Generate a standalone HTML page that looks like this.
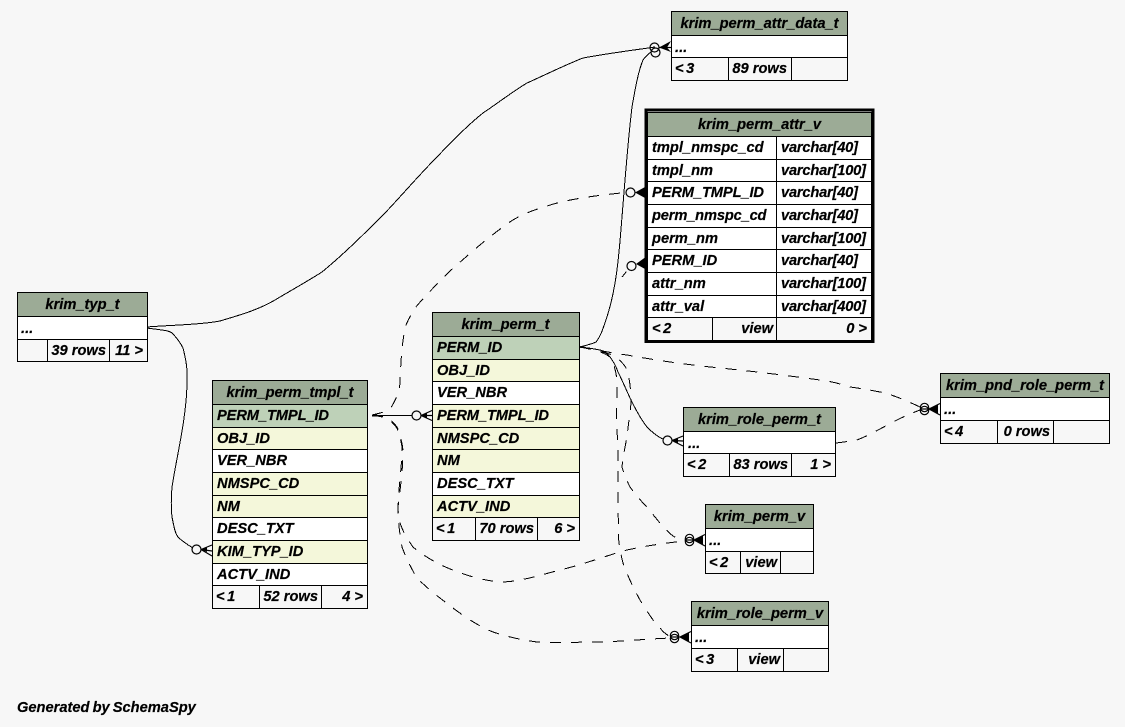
<!DOCTYPE html>
<html><head><meta charset="utf-8"><style>
html,body{margin:0;padding:0;background:#f7f7f7}
svg{display:block}
text{font-family:"Liberation Sans",sans-serif;font-weight:bold;font-style:italic;font-size:14.67px;fill:#000;stroke:#000;stroke-width:.2}
.c{text-anchor:middle}.e{text-anchor:end}.l{word-spacing:-1.5px}
.t rect{stroke:#000;stroke-width:1}
.h{fill:#9cab96}.p{fill:#bed1b8}.f{fill:#f4f7da}.w{fill:#fff}.n{fill:#f7f7f7}
.s{fill:none;stroke:#000;stroke-width:1;shape-rendering:crispEdges}
.d{fill:none;stroke:#000;stroke-width:1;stroke-dasharray:11 10;shape-rendering:crispEdges}
.o{fill:none;stroke:#000;stroke-width:1.2}
.k{fill:none;stroke:#000;stroke-width:1.2}
</style></head><body>
<svg width="1125" height="727" viewBox="0 0 1125 727" xmlns="http://www.w3.org/2000/svg">
<rect width="1125" height="727" fill="#f7f7f7"/>

<!-- connectors -->
<path class="s" d="M147,327 C170,325 200,325 220,321 C240,315 258,310 275,300 C290,291 308,281 322,272 C345,253 365,233 385,213 C403,194 420,174 437,157 C452,141 468,125 483,113 C498,103 512,92 527,83 C545,75 565,65 583,58 C610,53 635,50 655,47"/>
<path class="s" d="M147,328 C160,330 168,330 172,333 C176,337 180,342 183,348 C186,360 188,370 187,385 C186,420 177,455 172,487 C171,498 171,508 172,517 C174,527 175,533 178,537 C183,542 188,545 193,548"/>
<path class="s" d="M372,415.5 L412,415.5"/>
<path class="d" d="M372,415 C380,413 388,412 392,406 C398,395 400,390 400,380 C401,360 402,340 406,325 C409,318 412,313 415,308 C426,295 438,283 450,271 C468,255 485,240 503,227 C515,217 530,211 547,206 C565,200 590,196 626,192.5"/>
<path class="s" d="M580,347 C587,345 592,344 596,342 C601,336 603,328 606,320 C611,305 613,295 615,283 C619,260 620,240 622,217 C625,180 628,140 632,107 C635,90 638,72 643,60 C645,57 647,55 651,52"/>
<path class="d" stroke-dashoffset="4" d="M622,277 L631,266"/>
<path class="d" d="M580,347 C600,350 610,353 627,355 C660,361 690,365 720,368 C760,372 790,376 820,380 C835,382 840,384 850,387 C865,389 875,391 885,393 C895,396 905,400 920,407"/>
<path class="s" d="M580,347 C590,348 595,349 600,350 C604,351 607,353 610,357 C613,361 616,366 618,372 C622,380 626,389 630,398 C635,408 640,418 647,427 C652,432 658,437 663,439"/>
<path class="d" d="M836,443 C845,442 850,441 857,440 C870,435 885,426 897,420 C905,416 912,413 920,410"/>
<path class="d" d="M580,347 C590,349 603,352 613,355 C620,360 625,365 627,370 C630,380 631,392 631,403 C630,415 628,426 627,437 C625,447 623,457 622,467 C624,474 627,481 630,487 C635,494 640,500 647,507 C655,517 665,530 673,536 C678,539 682,540 686,540"/>
<path class="d" d="M580,347 C590,349 602,351 610,357 C614,363 616,372 617,380 L616.5,420 C617,432 618,445 618,457 L618,497 L618.5,537 C619,546 621,555 623,563 C628,577 634,589 640,600 C646,610 653,621 660,628 C664,633 668,636 672,637"/>
<path class="d" d="M372,415 C378,416 382,416 387,417 C391,420 394,423 397,427 C400,434 402,442 403,450 C403,470 400,490 398,507 C398,512 399,518 400,523 C403,532 408,540 413,547 C420,553 428,558 437,563 C455,572 478,580 500,582 C520,582 540,575 560,570 C585,564 605,556 627,550 C645,546 665,543 685,541"/>
<path class="d" d="M372,415 C378,416 382,417 387,418 C391,421 394,424 397,428 C399,434 401,440 402,447 C402,468 398,490 398,510 C398,522 400,535 402,547 C406,558 411,568 417,578 C424,585 432,592 440,598 C455,610 475,625 493,632 C508,637 522,640 537,642 C560,643 580,642 603,642 C625,641 648,639 670,638"/>

<!-- crow's feet -->
<g>
<circle class="o" cx="654.5" cy="47.5" r="4.5"/><circle class="o" cx="655.5" cy="52.5" r="4.5"/>
<path d="M659,47.5 L671,41 L667,47.5 L671,52 Z"/><path class="k" d="M659,47.5 L671,47.5"/>

<circle class="o" cx="630.5" cy="192.5" r="4.5"/>
<path d="M635,192.5 L645,187 L645,198 Z"/>

<circle class="o" cx="631.5" cy="266" r="4.5"/>
<path d="M636,264 L645,257.5 L645,269 Z"/>

<circle class="o" cx="416.5" cy="415.5" r="4.5"/>
<path class="k" d="M421,415.5 L432,410.5 M421,415.5 L432,415.5 M421,415.5 L432,420.5"/><path d="M421,415.5 L427,413 L427,418 Z"/>

<circle class="o" cx="196.5" cy="549.5" r="4.5"/>
<path class="k" d="M201,549.5 L212,545 M201,549.5 L212,551 M201,549.5 L212,556"/><path d="M201,549.5 L207,547 L207,552 Z"/>

<circle class="o" cx="667.5" cy="440.5" r="4.5"/>
<path class="k" d="M672,440.5 L683,436 M672,440.5 L683,441 M672,440.5 L683,446"/><path d="M672,440.5 L678,438 L678,443 Z"/>

<circle class="o" cx="924.5" cy="407.5" r="4.2"/><circle class="o" cx="924.5" cy="410.5" r="4.2"/><path class="k" d="M920,409 L930,409"/>
<path class="k" d="M929,409 L940,403.5 M929,409 L940,415"/><path d="M929,409 L938,404.5 L938,413.5 Z"/>

<circle class="o" cx="689.5" cy="538.5" r="4.2"/><circle class="o" cx="689.5" cy="541.5" r="4.2"/><path class="k" d="M685,540 L694,540"/>
<path class="k" d="M694,540 L705,534.5 M694,540 L705,546"/><path d="M694,540 L703,535.5 L703,544.5 Z"/>

<circle class="o" cx="674.5" cy="635.5" r="4.2"/><circle class="o" cx="674.5" cy="638.5" r="4.2"/><path class="k" d="M670,637 L680,637"/>
<path class="k" d="M680,637 L691,631.5 M680,637 L691,643"/><path d="M680,637 L689,632.5 L689,641.5 Z"/>

<path d="M372,414.5 h5 v2 h-5 Z"/>
<path d="M580,346 l6,1 l-6,1 Z"/>
</g>

<!-- krim_perm_attr_data_t -->
<g class="t">
<rect class="h" x="671.5" y="11.5" width="176" height="24"/>
<rect class="w" x="671.5" y="35.5" width="176" height="22"/>
<rect class="n" x="671.5" y="57.5" width="57" height="23"/>
<rect class="n" x="728.5" y="57.5" width="63" height="23"/>
<rect class="n" x="791.5" y="57.5" width="56" height="23"/>
</g>
<text class="c" x="759.5" y="28">krim_perm_attr_data_t</text>
<text x="675" y="52">...</text>
<text class="l" x="675" y="73">&lt; 3</text>
<text class="e" x="787" y="73">89 rows</text>

<!-- krim_perm_attr_v -->
<rect x="646" y="110" width="227" height="231.5" fill="#f7f7f7" stroke="#000" stroke-width="3"/>
<g class="t">
<rect class="h" x="647.5" y="112.5" width="224" height="24"/>
<rect class="w" x="647.5" y="136.5" width="129" height="23"/><rect class="w" x="776.5" y="136.5" width="95" height="23"/>
<rect class="w" x="647.5" y="159.5" width="129" height="22"/><rect class="w" x="776.5" y="159.5" width="95" height="22"/>
<rect class="w" x="647.5" y="181.5" width="129" height="23"/><rect class="w" x="776.5" y="181.5" width="95" height="23"/>
<rect class="w" x="647.5" y="204.5" width="129" height="23"/><rect class="w" x="776.5" y="204.5" width="95" height="23"/>
<rect class="w" x="647.5" y="227.5" width="129" height="22"/><rect class="w" x="776.5" y="227.5" width="95" height="22"/>
<rect class="w" x="647.5" y="249.5" width="129" height="23"/><rect class="w" x="776.5" y="249.5" width="95" height="23"/>
<rect class="w" x="647.5" y="272.5" width="129" height="23"/><rect class="w" x="776.5" y="272.5" width="95" height="23"/>
<rect class="w" x="647.5" y="295.5" width="129" height="22"/><rect class="w" x="776.5" y="295.5" width="95" height="22"/>
<rect class="n" x="647.5" y="317.5" width="65" height="23"/><rect class="n" x="712.5" y="317.5" width="64" height="23"/><rect class="n" x="776.5" y="317.5" width="95" height="23"/>
</g>
<text class="c" x="759.5" y="129">krim_perm_attr_v</text>
<text x="652" y="152">tmpl_nmspc_cd</text><text x="781" y="152" textLength="77">varchar[40]</text>
<text x="652" y="175">tmpl_nm</text><text x="781" y="175" textLength="85">varchar[100]</text>
<text x="652" y="197" textLength="112">PERM_TMPL_ID</text><text x="781" y="197" textLength="77">varchar[40]</text>
<text x="652" y="220" textLength="114.5">perm_nmspc_cd</text><text x="781" y="220" textLength="77">varchar[40]</text>
<text x="652" y="243">perm_nm</text><text x="781" y="243" textLength="85">varchar[100]</text>
<text x="652" y="265">PERM_ID</text><text x="781" y="265" textLength="77">varchar[40]</text>
<text x="652" y="288">attr_nm</text><text x="781" y="288" textLength="85">varchar[100]</text>
<text x="652" y="311">attr_val</text><text x="781" y="311" textLength="85">varchar[400]</text>
<text class="l" x="652" y="333">&lt; 2</text><text class="e" x="773" y="333">view</text><text class="e" x="867" y="333">0 &gt;</text>

<!-- krim_typ_t -->
<g class="t">
<rect class="h" x="17.5" y="292.5" width="130" height="24"/>
<rect class="w" x="17.5" y="316.5" width="130" height="23"/>
<rect class="n" x="17.5" y="339.5" width="30" height="22"/>
<rect class="n" x="47.5" y="339.5" width="62" height="22"/>
<rect class="n" x="109.5" y="339.5" width="38" height="22"/>
</g>
<text class="c" x="82.5" y="309">krim_typ_t</text>
<text x="21" y="333">...</text>
<text class="e" x="106" y="355">39 rows</text>
<text class="e" x="143" y="355">11 &gt;</text>

<!-- krim_perm_tmpl_t -->
<g class="t">
<rect class="h" x="212.5" y="380.5" width="155" height="24"/>
<rect class="p" x="212.5" y="404.5" width="155" height="23"/>
<rect class="f" x="212.5" y="427.5" width="155" height="22"/>
<rect class="w" x="212.5" y="449.5" width="155" height="23"/>
<rect class="f" x="212.5" y="472.5" width="155" height="23"/>
<rect class="f" x="212.5" y="495.5" width="155" height="22"/>
<rect class="w" x="212.5" y="517.5" width="155" height="23"/>
<rect class="f" x="212.5" y="540.5" width="155" height="23"/>
<rect class="w" x="212.5" y="563.5" width="155" height="22"/>
<rect class="n" x="212.5" y="585.5" width="47" height="23"/>
<rect class="n" x="259.5" y="585.5" width="62" height="23"/>
<rect class="n" x="321.5" y="585.5" width="46" height="23"/>
</g>
<text class="c" x="290" y="397">krim_perm_tmpl_t</text>
<text x="217" y="420" textLength="112">PERM_TMPL_ID</text>
<text x="217" y="443">OBJ_ID</text>
<text x="217" y="465">VER_NBR</text>
<text x="217" y="488">NMSPC_CD</text>
<text x="217" y="511">NM</text>
<text x="217" y="533">DESC_TXT</text>
<text x="217" y="556">KIM_TYP_ID</text>
<text x="217" y="579">ACTV_IND</text>
<text class="l" x="216" y="601">&lt; 1</text>
<text class="e" x="318" y="601">52 rows</text>
<text class="e" x="363" y="601">4 &gt;</text>

<!-- krim_perm_t -->
<g class="t">
<rect class="h" x="432.5" y="312.5" width="147" height="24"/>
<rect class="p" x="432.5" y="336.5" width="147" height="23"/>
<rect class="f" x="432.5" y="359.5" width="147" height="22"/>
<rect class="w" x="432.5" y="381.5" width="147" height="23"/>
<rect class="f" x="432.5" y="404.5" width="147" height="23"/>
<rect class="f" x="432.5" y="427.5" width="147" height="22"/>
<rect class="f" x="432.5" y="449.5" width="147" height="23"/>
<rect class="w" x="432.5" y="472.5" width="147" height="23"/>
<rect class="f" x="432.5" y="495.5" width="147" height="22"/>
<rect class="n" x="432.5" y="517.5" width="43" height="23"/>
<rect class="n" x="475.5" y="517.5" width="62" height="23"/>
<rect class="n" x="537.5" y="517.5" width="42" height="23"/>
</g>
<text class="c" x="505.5" y="329">krim_perm_t</text>
<text x="437" y="352">PERM_ID</text>
<text x="437" y="375">OBJ_ID</text>
<text x="437" y="397">VER_NBR</text>
<text x="437" y="420" textLength="112">PERM_TMPL_ID</text>
<text x="437" y="443">NMSPC_CD</text>
<text x="437" y="465">NM</text>
<text x="437" y="488">DESC_TXT</text>
<text x="437" y="511">ACTV_IND</text>
<text class="l" x="436" y="533">&lt; 1</text>
<text class="e" x="534" y="533">70 rows</text>
<text class="e" x="575" y="533">6 &gt;</text>

<!-- krim_role_perm_t -->
<g class="t">
<rect class="h" x="683.5" y="407.5" width="152" height="24"/>
<rect class="w" x="683.5" y="431.5" width="152" height="22"/>
<rect class="n" x="683.5" y="453.5" width="46" height="23"/>
<rect class="n" x="729.5" y="453.5" width="62" height="23"/>
<rect class="n" x="791.5" y="453.5" width="44" height="23"/>
</g>
<text class="c" x="759.5" y="424">krim_role_perm_t</text>
<text x="688" y="448">...</text>
<text class="l" x="687" y="469">&lt; 2</text>
<text class="e" x="788" y="469">83 rows</text>
<text class="e" x="831" y="469">1 &gt;</text>

<!-- krim_pnd_role_perm_t -->
<g class="t">
<rect class="h" x="940.5" y="373.5" width="169" height="24"/>
<rect class="w" x="940.5" y="397.5" width="169" height="23"/>
<rect class="n" x="940.5" y="420.5" width="57" height="23"/>
<rect class="n" x="997.5" y="420.5" width="56" height="23"/>
<rect class="n" x="1053.5" y="420.5" width="56" height="23"/>
</g>
<text class="c" x="1025" y="390">krim_pnd_role_perm_t</text>
<text x="944" y="414">...</text>
<text class="l" x="944" y="436">&lt; 4</text>
<text class="e" x="1050" y="436">0 rows</text>

<!-- krim_perm_v -->
<g class="t">
<rect class="h" x="705.5" y="504.5" width="108" height="24"/>
<rect class="w" x="705.5" y="528.5" width="108" height="23"/>
<rect class="n" x="705.5" y="551.5" width="35" height="22"/>
<rect class="n" x="740.5" y="551.5" width="40" height="22"/>
<rect class="n" x="780.5" y="551.5" width="33" height="22"/>
</g>
<text class="c" x="759.5" y="521">krim_perm_v</text>
<text x="709" y="545">...</text>
<text class="l" x="709" y="567">&lt; 2</text>
<text class="e" x="777" y="567">view</text>

<!-- krim_role_perm_v -->
<g class="t">
<rect class="h" x="691.5" y="601.5" width="137" height="24"/>
<rect class="w" x="691.5" y="625.5" width="137" height="23"/>
<rect class="n" x="691.5" y="648.5" width="46" height="23"/>
<rect class="n" x="737.5" y="648.5" width="46" height="23"/>
<rect class="n" x="783.5" y="648.5" width="45" height="23"/>
</g>
<text class="c" x="760" y="618">krim_role_perm_v</text>
<text x="695" y="642">...</text>
<text class="l" x="695" y="664">&lt; 3</text>
<text class="e" x="780" y="664">view</text>

<text x="17" y="712" style="word-spacing:-1px">Generated by SchemaSpy</text>
</svg>
</body></html>
